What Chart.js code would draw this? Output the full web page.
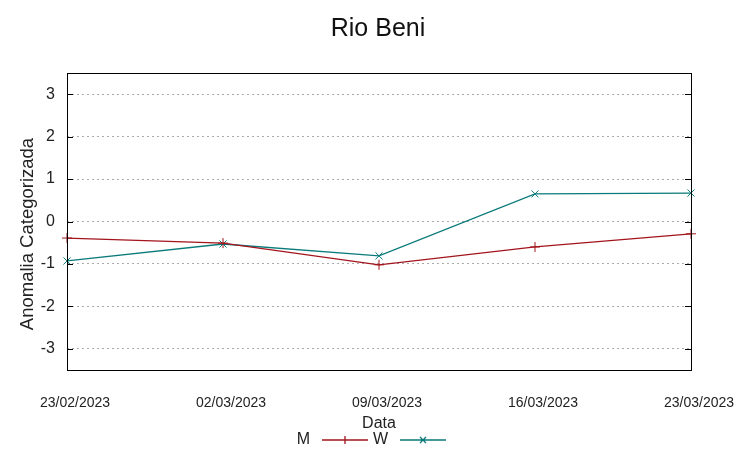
<!DOCTYPE html>
<html>
<head>
<meta charset="utf-8">
<script src="https://cdn.jsdelivr.net/npm/chart.js@4.4.1/dist/chart.umd.min.js"></script>
<style>
 body{margin:0;background:#fff;}
 #wrap{width:753px;height:459px;}
</style>
</head>
<body>
<div id="wrap"><canvas id="mychart" width="753" height="459"></canvas></div>
<script>
// data
var dates = ["23/02/2023","02/03/2023","09/03/2023","16/03/2023","23/03/2023"]
var serieM = [-0.39,-0.51,-1.02,-0.60,-0.29]
var serieW = [-0.93,-0.53,-0.81,0.65,0.67]
var yTicks = [-3,-2,-1,0,1,2,3]

var corM = "#a3141c"
var corW = "#0a7a7a"
var fonte = "'Liberation Sans', Arial, sans-serif"

// title, y title, box, tick marks and bottom legend like gnuplot
var extras = {
 id:"extras",
 afterDraw:function(chart){
	var c = chart.ctx, a = chart.chartArea, y = chart.scales.y
	c.save()
	c.font = "25px "+fonte
	c.fillStyle = "#111"
	c.textAlign = "center"
	c.textBaseline = "middle"
	c.fillText("Rio Beni", 378, 29)

	c.save()
	c.translate(28, 234)
	c.rotate(-Math.PI/2)
	c.font = "18.5px "+fonte
	c.fillStyle = "#222"
	c.fillText("Anomalia Categorizada", 0, 0)
	c.restore()

	c.strokeStyle = "#000"
	c.lineWidth = 1
	c.strokeRect(a.left+0.5, a.top+0.5, a.right-a.left, a.bottom-a.top)
	yTicks.forEach(function(v){
		var py = Math.round(y.getPixelForValue(v))+0.5
		c.beginPath()
		c.moveTo(a.left, py); c.lineTo(a.left+6, py)
		c.moveTo(a.right, py); c.lineTo(a.right-6, py)
		c.stroke()
	})
	// legend
	c.font = "16px "+fonte
	c.fillStyle = "#222"
	c.textAlign = "right"
	var ly = 440
	c.fillText("M", 310, ly)
	c.fillText("W", 388, ly)
	c.lineWidth = 1.3
	c.strokeStyle = corM
	c.beginPath(); c.moveTo(322, ly); c.lineTo(368, ly)
	c.moveTo(345, ly-4); c.lineTo(345, ly+4); c.stroke()
	c.strokeStyle = corW
	c.beginPath(); c.moveTo(400, ly); c.lineTo(446, ly)
	c.moveTo(420, ly-3); c.lineTo(426, ly+3)
	c.moveTo(420, ly+3); c.lineTo(426, ly-3); c.stroke()
	c.restore()
 }
}

var ctx = document.getElementById("mychart").getContext("2d")
var chart = new Chart(ctx,{
	type:"line",
	data:{
		labels:dates,
		datasets:[
			{
				label:"M",
				data:serieM,
				borderColor:corM,
				backgroundColor:corM,
				borderWidth:1.3,
				pointStyle:"cross",
				pointRadius:5,
				pointBorderWidth:1,
				tension:0
			},
			{
				label:"W",
				data:serieW,
				borderColor:corW,
				backgroundColor:corW,
				borderWidth:1.3,
				pointStyle:"crossRot",
				pointRadius:5,
				pointBorderWidth:1,
				tension:0
			}
		]
	},
	options:{
		responsive:false,
		animation:false,
		layout:{padding:{top:73,right:62,left:0,bottom:0}},
		plugins:{
			legend:{display:false},
			tooltip:{enabled:false},
			title:{display:false}
		},
		scales:{
			x:{
				offset:false,
				grid:{display:false,drawTicks:false},
				border:{display:false},
				ticks:{color:"#222",font:{family:fonte,size:14},padding:25,labelOffset:8,maxRotation:0,autoSkip:false},
				title:{display:true,text:"Data",color:"#222",font:{family:fonte,size:16},padding:{top:0,bottom:26}},
				afterFit:function(s){ s.height = 89 }
			},
			y:{
				min:-3.5,
				max:3.5,
				afterBuildTicks:function(s){ s.ticks = yTicks.map(function(v){return {value:v}}) },
				grid:{color:"#aaaaaa",lineWidth:1,drawTicks:false},
				border:{display:false,dash:[2,3]},
				ticks:{color:"#222",font:{family:fonte,size:16},padding:12},
				title:{display:false},
				afterFit:function(s){ s.width = 67 }
			}
		}
	},
	plugins:[extras]
})
</script>
</body>
</html>
